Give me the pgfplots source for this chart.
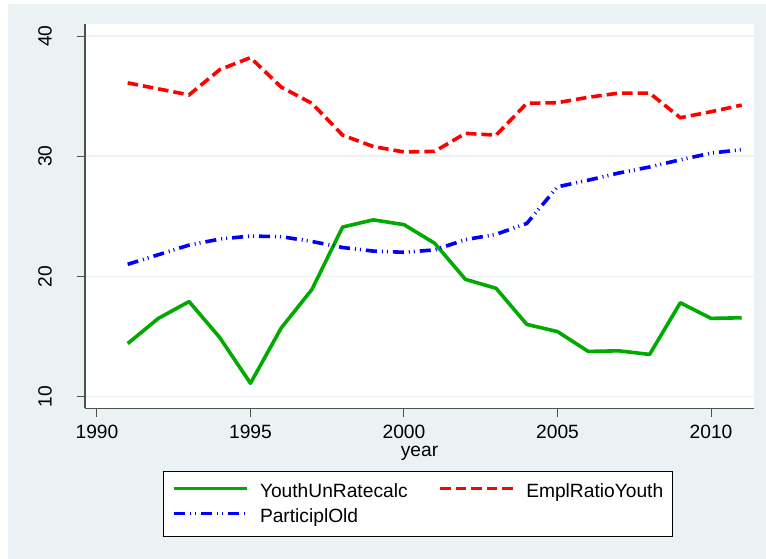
\documentclass[border=0pt]{standalone}
\usepackage{fontspec}
\setmainfont{Liberation Sans}
\usepackage{pgfplots}
\pgfplotsset{compat=1.18}
\definecolor{bgc}{RGB}{234,242,243}
\definecolor{sgreen}{RGB}{0,170,0}
\definecolor{axc}{RGB}{80,80,80}
\begin{document}
\begin{tikzpicture}
\path[use as bounding box] (0,0) rectangle (766bp,559bp);
\fill[bgc] (8bp,0) rectangle (766bp,555bp);
\begin{axis}[
 at={(85bp,150.5bp)}, anchor=south west,
 scale only axis, width=669bp, height=384.5bp,
 xmin=1989.61, xmax=2011.4, ymin=9, ymax=41,
 axis x line=bottom, axis y line=left,
 axis line style={-, draw=axc, line width=1.1bp},
 axis background/.style={fill=white},
 xtick={1990,1995,2000,2005,2010}, ytick={10,20,30,40},
 tick align=outside, major tick length=8bp,
 tick style={draw=axc, line width=1bp},
 ymajorgrids, major grid style={draw=bgc, line width=1.6bp},
 font=\fontsize{19.2bp}{23bp}\selectfont,
 /pgf/number format/assume math mode=true,
 /pgf/number format/1000 sep={},
 yticklabel style={rotate=90, anchor=south, inner sep=0pt, yshift=25bp},
 xticklabel style={anchor=base, inner sep=0pt, yshift=-22bp},
 xlabel={year},
 xlabel style={at={(axis description cs:0.5,0)}, anchor=base, yshift=-47.5bp, inner sep=0pt},
 legend columns=2,
 legend cell align=left,
 legend style={at={(axis description cs:0.1166,-0.1625)}, anchor=north west,
   draw=black, line width=0.8bp, fill=white, inner xsep=9bp, inner ysep=12.5bp,
   row sep=9.5bp, nodes={inner sep=0pt},
   /tikz/every odd column/.append style={column sep=11bp},
   /tikz/every even column/.append style={column sep=31bp}},
 legend image code/.code={\draw[#1] (0bp,0.3em) -- (73bp,0.3em);},
]
\addplot[sgreen, line width=3.6bp, line join=round] coordinates {
(1991,14.4) (1992,16.5) (1993,17.9) (1994,14.9) (1995,11.1) (1996,15.7)
(1997,18.9) (1998,24.1) (1999,24.7) (2000,24.3) (2001,22.75) (2002,19.75)
(2003,19.0) (2004,16.0) (2005,15.4) (2006,13.75) (2007,13.8) (2008,13.5)
(2009,17.8) (2010,16.5) (2011,16.55)};
\addlegendentry{YouthUnRatecalc}
\addplot[red, line width=3.6bp, dash pattern=on 10.5bp off 5bp] coordinates {
(1991,36.1) (1992,35.6) (1993,35.1) (1994,37.2) (1995,38.2) (1996,35.75)
(1997,34.4) (1998,31.75) (1999,30.8) (2000,30.35) (2001,30.4) (2002,31.9)
(2003,31.75) (2004,34.4) (2005,34.45) (2006,34.9) (2007,35.25) (2008,35.25)
(2009,33.2) (2010,33.7) (2011,34.25)};
\addlegendentry{EmplRatioYouth}
\addplot[blue, line width=3.6bp, dash pattern=on 11bp off 5bp on 1bp off 4bp on 1bp off 5bp] coordinates {
(1991,21.0) (1992,21.8) (1993,22.6) (1994,23.1) (1995,23.35) (1996,23.3)
(1997,22.9) (1998,22.4) (1999,22.1) (2000,22.0) (2001,22.2) (2002,23.05)
(2003,23.5) (2004,24.4) (2005,27.45) (2006,28.0) (2007,28.6) (2008,29.1)
(2009,29.7) (2010,30.25) (2011,30.55)};
\addlegendentry{ParticiplOld}
\end{axis}
\end{tikzpicture}
\end{document}
